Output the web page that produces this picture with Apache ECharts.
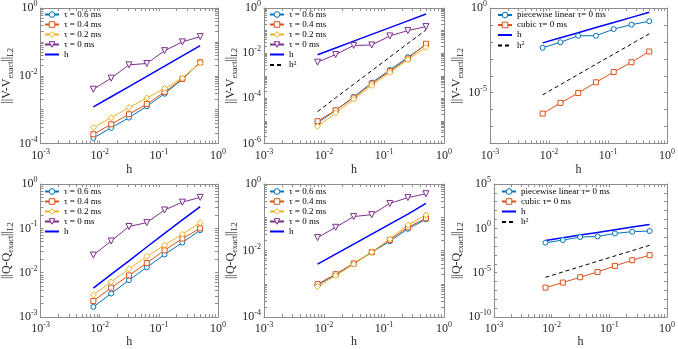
<!DOCTYPE html>
<html>
<head>
<meta charset="utf-8">
<script src="https://cdn.jsdelivr.net/npm/echarts@6/dist/echarts.min.js"></script>
<style>
html, body { margin: 0; padding: 0; background: #fff; }
#chart { width: 678px; height: 349px; }
</style>
</head>
<body>
<div id="chart"></div>
<script>
// mesh sizes
var hVals = [1/128, 1/64, 1/32, 1/16, 1/8, 1/4, 1/2];

// top row: ||V - V_exact||_L2
var v1Tau06 = [1.46e-4, 2.9e-4, 5.8e-4, 1.25e-3, 2.95e-3, 7.9e-3, 0.025];
var v1Tau04 = [1.87e-4, 3.7e-4, 7.3e-4, 1.46e-3, 3.3e-3, 8.1e-3, 0.025];
var v1Tau02 = [2.95e-4, 5.8e-4, 1.15e-3, 2.2e-3, 4.2e-3, 8.5e-3, 0.024];
var v1Tau0  = [0.004, 0.0085, 0.021, 0.023, 0.055, 0.1, 0.143];
var v1RefH  = [0.0012, 0.0024, 0.0048, 0.0096, 0.0193, 0.0385, 0.077];

var v2Tau06 = [8.1e-6, 2.95e-5, 1.15e-4, 4.9e-4, 1.8e-3, 6.6e-3, 0.0234];
var v2Tau04 = [9.7e-6, 2.95e-5, 1.07e-4, 4.5e-4, 1.6e-3, 5.8e-3, 0.026];
var v2Tau02 = [5.8e-6, 2.2e-5, 9.1e-5, 3.7e-4, 1.4e-3, 5.2e-3, 0.018];
var v2Tau0  = [0.004, 0.0087, 0.022, 0.023, 0.058, 0.1, 0.15];
var v2RefH  = [0.0085, 0.017, 0.034, 0.068, 0.135, 0.27, 0.54];
var v2RefH2 = [2.6e-5, 1.05e-4, 4.2e-4, 1.68e-3, 6.7e-3, 0.027, 0.107];

var v3Linear = [0.0045, 0.0095, 0.023, 0.023, 0.057, 0.104, 0.165];
var v3Cubic  = [5.8e-7, 2.5e-6, 9.5e-6, 4.1e-5, 1.66e-4, 6.3e-4, 2.7e-3];
var v3RefH   = [0.0087, 0.0175, 0.035, 0.07, 0.14, 0.28, 0.56];
var v3RefH2  = [7.5e-6, 3e-5, 1.2e-4, 4.8e-4, 1.9e-3, 7.5e-3, 0.03];

// bottom row: ||Q - Q_exact||_L2
var q4Tau06 = [0.0017, 0.0034, 0.0068, 0.0132, 0.0258, 0.048, 0.091];
var q4Tau04 = [0.0023, 0.0046, 0.0087, 0.0166, 0.032, 0.059, 0.1];
var q4Tau02 = [0.0032, 0.0062, 0.0123, 0.0234, 0.042, 0.074, 0.134];
var q4Tau0  = [0.025, 0.052, 0.11, 0.135, 0.26, 0.39, 0.5];
var q4RefH  = [0.0045, 0.0092, 0.0185, 0.038, 0.077, 0.155, 0.31];

var q5Tau06 = [9.3e-4, 1.9e-3, 4.0e-3, 8.9e-3, 0.019, 0.045, 0.087];
var q5Tau04 = [9.8e-4, 1.95e-3, 4.1e-3, 8.9e-3, 0.021, 0.05, 0.093];
var q5Tau02 = [8.3e-4, 1.75e-3, 3.9e-3, 8.9e-3, 0.022, 0.059, 0.117];
var q5Tau0  = [0.0245, 0.05, 0.105, 0.12, 0.26, 0.39, 0.51];
var q5RefH  = [0.0039, 0.0078, 0.0156, 0.031, 0.0625, 0.125, 0.26];

var q6Linear = [0.024, 0.048, 0.105, 0.123, 0.27, 0.42, 0.5];
var q6Cubic  = [2.1e-7, 7.8e-7, 3.1e-6, 1.23e-5, 5.9e-5, 2.6e-4, 9.5e-4];
var q6RefH   = [0.044, 0.0875, 0.175, 0.35, 0.7, 1.4, 2.8];
var q6RefH2  = [3.05e-6, 1.22e-5, 4.9e-5, 1.95e-4, 7.8e-4, 3.1e-3, 0.0125];

// axis exponents (log10)
var xRange = [-3, 0];
var xTickLabels = [-3, -2, -1, 0];
var yRanges = [[-4, 0], [-6, 0], [-8, 0], [-3, 0], [-4, 0], [-10, 5]];
var yTickLabels = [[-4, -2, 0], [-6, -4, -2, 0], [-5, 0], [-3, -2, -1, 0], [-4, -2, 0], [-10, -5, 0, 5]];

var FONT = 'Liberation Serif';
var TXT = '#262626';
var BOX = '#8c8c8c';

var grids = [
  {left: 38.5, top: 7.5, width: 179.5, height: 136},
  {left: 264, top: 7.5, width: 180, height: 136},
  {left: 490, top: 7.5, width: 180, height: 136},
  {left: 38.5, top: 184, width: 179.5, height: 135.5},
  {left: 264, top: 184, width: 180, height: 135.5},
  {left: 494, top: 184, width: 176, height: 135.5}
];
var legendPos = [[44, 10], [269, 10], [497, 10.5], [44, 187], [269, 187], [501, 187]];

var styles = {
  tau06: {color: '#0072BD', symbol: 'circle', size: 5},
  tau04: {color: '#D95319', symbol: 'rect', size: 5},
  tau02: {color: '#EDB120', symbol: 'diamond', size: 6},
  tau0:  {color: '#7E2F8E', symbol: 'triangle', size: 6, rotate: 180},
  lin:   {color: '#0072BD', symbol: 'circle', size: 5},
  cub:   {color: '#D95319', symbol: 'rect', size: 5},
  refH:  {color: '#0000FF', symbol: 'none', width: 1.5},
  refH2: {color: '#000000', symbol: 'none', type: [4, 3]}
};

var panels = [
  {q: 'V', items: [['τ = 0.6 ms', v1Tau06, 'tau06'], ['τ = 0.4 ms', v1Tau04, 'tau04'], ['τ = 0.2 ms', v1Tau02, 'tau02'], ['τ = 0 ms', v1Tau0, 'tau0'], ['h', v1RefH, 'refH']]},
  {q: 'V', items: [['τ = 0.6 ms', v2Tau06, 'tau06'], ['τ = 0.4 ms', v2Tau04, 'tau04'], ['τ = 0.2 ms', v2Tau02, 'tau02'], ['τ = 0 ms', v2Tau0, 'tau0'], ['h', v2RefH, 'refH'], ['h2', v2RefH2, 'refH2']]},
  {q: 'V', items: [['piecewise linear τ= 0 ms', v3Linear, 'lin'], ['cubic τ= 0 ms', v3Cubic, 'cub'], ['h', v3RefH, 'refH'], ['h2', v3RefH2, 'refH2']]},
  {q: 'Q', items: [['τ = 0.6 ms', q4Tau06, 'tau06'], ['τ = 0.4 ms', q4Tau04, 'tau04'], ['τ = 0.2 ms', q4Tau02, 'tau02'], ['τ = 0 ms', q4Tau0, 'tau0'], ['h', q4RefH, 'refH']]},
  {q: 'Q', items: [['τ = 0.6 ms', q5Tau06, 'tau06'], ['τ = 0.4 ms', q5Tau04, 'tau04'], ['τ = 0.2 ms', q5Tau02, 'tau02'], ['τ = 0 ms', q5Tau0, 'tau0'], ['h', q5RefH, 'refH']]},
  {q: 'Q', items: [['piecewise linear τ= 0 ms', q6Linear, 'lin'], ['cubic τ= 0 ms', q6Cubic, 'cub'], ['h', q6RefH, 'refH'], ['h2', q6RefH2, 'refH2']]}
];

// MATLAB style log ticks: 2..9 inside each decade, or one per decade on wide ranges
function tickSpots(lo, hi) {
  var out = [];
  for (var n = lo; n <= hi; n++) {
    out.push(n);
    if (hi - lo <= 6 && n < hi) {
      for (var k = 2; k <= 9; k++) out.push(n + Math.log10(k));
    }
  }
  return out;
}

var supRich = {
  b: {fontFamily: FONT, fontSize: 12, color: TXT, lineHeight: 16},
  s: {fontFamily: FONT, fontSize: 8, color: TXT, verticalAlign: 'top'}
};
function powLabel(v) { return '{b|10}{s|' + Math.round(v) + '}'; }

var option = {
  animation: false,
  backgroundColor: '#fff',
  grid: grids,
  xAxis: [], yAxis: [], legend: [], series: []
};

panels.forEach(function (p, i) {
  var yr = yRanges[i];
  var xTicks = tickSpots(xRange[0], xRange[1]);
  var yTicks = tickSpots(yr[0], yr[1]);
  var bottomRow = i >= 3;
  var common = {
    type: 'value', gridIndex: i, splitLine: {show: false},
    axisLine: {show: true, onZero: false, lineStyle: {color: BOX, width: 1}}
  };
  option.xAxis.push(Object.assign({}, common, {
    position: 'bottom', min: xRange[0], max: xRange[1],
    axisTick: {inside: true, length: 3, customValues: xTicks, lineStyle: {color: BOX}},
    axisLabel: {customValues: xTickLabels, formatter: powLabel, rich: supRich, margin: 4},
    name: 'h', nameLocation: 'middle', nameGap: bottomRow ? 18 : 20,
    nameTextStyle: {fontFamily: FONT, fontSize: 12, color: TXT}
  }));
  option.xAxis.push(Object.assign({}, common, {
    position: 'top', min: xRange[0], max: xRange[1],
    axisTick: {inside: true, length: 3, customValues: xTicks, lineStyle: {color: BOX}},
    axisLabel: {show: false}
  }));
  var q = p.q;
  option.yAxis.push(Object.assign({}, common, {
    position: 'left', min: yr[0], max: yr[1],
    axisTick: {inside: true, length: 3, customValues: yTicks, lineStyle: {color: BOX}},
    axisLabel: {customValues: yTickLabels[i], formatter: powLabel, rich: supRich, margin: 3},
    name: '{n|||' + q + '-' + q + '}{s|exact}{n|||}{s|L2}',
    nameLocation: 'middle', nameGap: 20, nameRotate: 90,
    nameTextStyle: {rich: {
      n: {fontFamily: FONT, fontSize: 12, color: TXT, lineHeight: 16},
      s: {fontFamily: FONT, fontSize: 8, color: TXT, verticalAlign: 'bottom'}
    }}
  }));
  option.yAxis.push(Object.assign({}, common, {
    position: 'right', min: yr[0], max: yr[1],
    axisTick: {inside: true, length: 3, customValues: yTicks, lineStyle: {color: BOX}},
    axisLabel: {show: false}
  }));

  p.items.forEach(function (it) {
    var st = styles[it[2]];
    var vals = it[1];
    option.series.push({
      type: 'line', name: it[0],
      xAxisIndex: 2 * i, yAxisIndex: 2 * i,
      data: hVals.map(function (h, k) { return [Math.log10(h), Math.log10(vals[k])]; }),
      symbol: st.symbol, symbolSize: st.size || 4, symbolRotate: st.rotate || 0,
      showSymbol: st.symbol !== 'none',
      lineStyle: {color: st.color, width: st.width || 1, type: st.type || 'solid'},
      itemStyle: {color: '#fff', borderColor: st.color, borderWidth: 1},
      emphasis: {disabled: true}
    });
  });

  option.legend.push({
    orient: 'vertical', left: legendPos[i][0], top: legendPos[i][1],
    padding: 0, itemGap: 1, itemWidth: 14, itemHeight: 7,
    selectedMode: false,
    itemStyle: {borderWidth: 1},
    data: p.items.map(function (it) {
      var st = styles[it[2]];
      var d = {name: it[0]};
      if (st.symbol === 'none') d.itemStyle = {opacity: 0};
      return d;
    }),
    formatter: function (n) { return n === 'h2' ? '{t|h}{s|2}' : '{t|' + n + '}'; },
    textStyle: {
      fontFamily: FONT, fontSize: 9, color: '#000',
      rich: {
        t: {fontFamily: FONT, fontSize: 9, color: '#000', lineHeight: 10},
        s: {fontFamily: FONT, fontSize: 6, color: '#000', verticalAlign: 'top'}
      }
    }
  });
});

var chart = echarts.init(document.getElementById('chart'));
chart.setOption(option);
</script>
</body>
</html>
